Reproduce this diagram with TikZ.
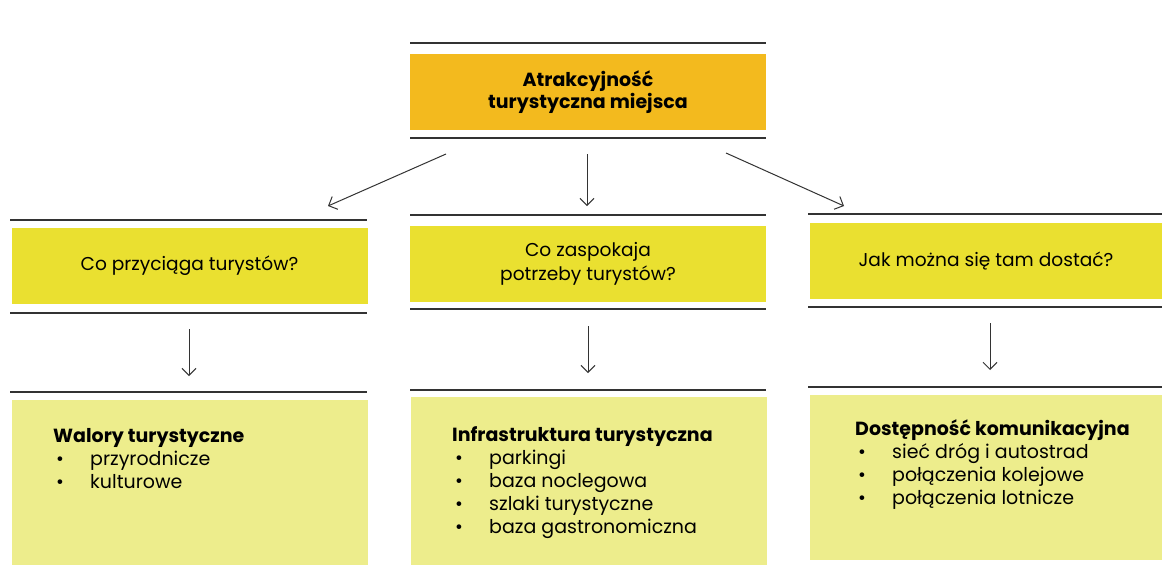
\documentclass[tikz,border=0pt]{standalone}
\usepackage{fontspec}
\setmainfont{Poppins}
\usetikzlibrary{arrows.meta}
\definecolor{topcol}{HTML}{F3BA1E}
\definecolor{midcol}{HTML}{EAE030}
\definecolor{lowcol}{HTML}{EDED8C}
\definecolor{rulecol}{HTML}{333333}
\tikzset{
  rule/.style={draw=rulecol, line width=1.3pt},
  arr/.style={draw=rulecol, line width=1pt, -{Straight Barb[length=7pt,width=14pt]}},
  topbox/.style={fill=topcol, inner sep=0pt, minimum width=356pt, minimum height=76pt, align=center,
    font=\fontsize{19}{22}\selectfont\bfseries},
  midbox/.style={fill=midcol, inner sep=0pt, minimum width=356pt, minimum height=76pt, align=center,
    font=\fontsize{18.6}{24}\selectfont},
  lowbox/.style={fill=lowcol, inner sep=0pt, minimum width=356pt},
  lowtext/.style={inner sep=0pt, anchor=north west, align=left, font=\fontsize{19}{23}\selectfont}
}
\newcommand{\bitem}[1]{\makebox[37pt][l]{\hspace{3pt}\textbullet}#1}
\begin{document}
\begin{tikzpicture}[x=1pt,y=-1pt]
\useasboundingbox (0,0) rectangle (1162,566);
\fill[white] (0,0) rectangle (1162,566);
% top
\draw[rule] (410,43) -- (766,43);
\node[topbox] (top) at (588,92) {Atrakcyjność\\turystyczna miejsca};
\draw[rule] (410,138) -- (766,138);
% arrows from top
\coordinate (t1) at (446,154);
\coordinate (t2) at (587,154);
\coordinate (t3) at (726,153);
\coordinate (e1) at (328,206);
\coordinate (e2) at (587,206);
\coordinate (e3) at (844,206);
\draw[arr] (t1) -- (e1);
\draw[arr] (t2) -- (e2);
\draw[arr] (t3) -- (e3);
% left column
\draw[rule] (10,220) -- (367,220);
\node[midbox] (q1) at (189.5,266) {Co przyciąga turystów?};
\draw[rule] (10,313) -- (367,313);
\coordinate (a1s) at (189,329);
\coordinate (a1e) at (189,376);
\draw[arr] (a1s) -- (a1e);
\draw[rule] (10,392) -- (367,392);
\node[lowbox, minimum height=165pt] (b1) at (190,482.5) {};
\node[lowtext] (b1t) at (53,428) {\textbf{Walory turystyczne}\\\bitem{przyrodnicze}\\\bitem{kulturowe}};
% middle column
\draw[rule] (410,215) -- (766,215);
\node[midbox] (q2) at (588,264) {Co zaspokaja\\potrzeby turystów?};
\draw[rule] (410,309) -- (766,309);
\coordinate (a2s) at (588,326);
\coordinate (a2e) at (588,373);
\draw[arr] (a2s) -- (a2e);
\draw[rule] (410,390) -- (766,390);
\node[lowbox, minimum height=168pt] (b2) at (589,481) {};
\node[lowtext] (b2t) at (452,426) {\textbf{Infrastruktura turystyczna}\\\bitem{parkingi}\\\bitem{baza noclegowa}\\\bitem{szlaki turystyczne}\\\bitem{baza gastronomiczna}};
% right column
\draw[rule] (808,214) -- (1162,214);
\node[midbox, minimum width=352pt] (q3) at (986,261) {Jak można się tam dostać?};
\draw[rule] (808,307) -- (1162,307);
\coordinate (a3s) at (990,323);
\coordinate (a3e) at (990,370);
\draw[arr] (a3s) -- (a3e);
\draw[rule] (808,387) -- (1162,387);
\node[lowbox, minimum width=352pt, minimum height=165pt] (b3) at (986,477.5) {};
\node[lowtext] (b3t) at (855,419) {\textbf{Dostępność komunikacyjna}\\\bitem{sieć dróg i autostrad}\\\bitem{połączenia kolejowe}\\\bitem{połączenia lotnicze}};
\end{tikzpicture}
\end{document}
